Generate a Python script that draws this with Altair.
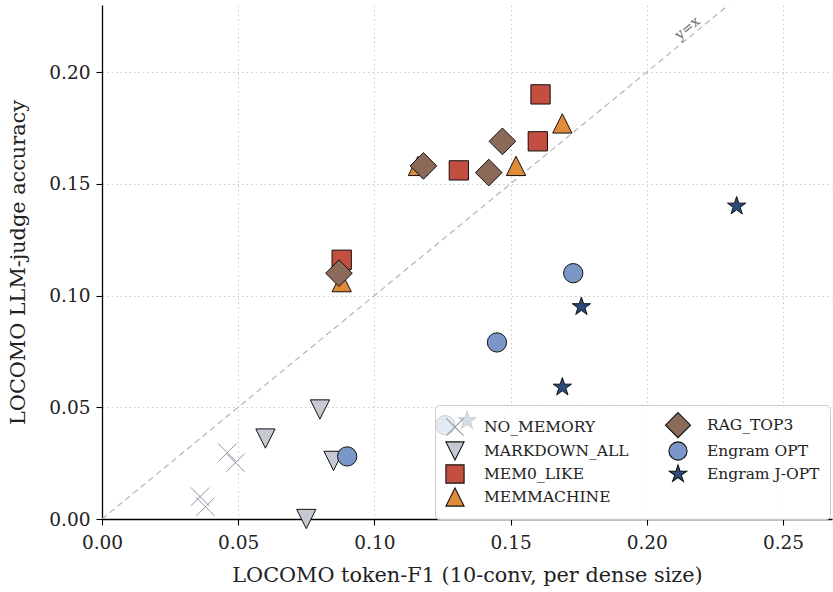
import altair as alt
import pandas as pd

# ---- data ----
methods = ["NO_MEMORY", "MARKDOWN_ALL", "MEM0_LIKE", "MEMMACHINE",
           "RAG_TOP3", "Engram OPT", "Engram J-OPT"]
f1 = {
    "NO_MEMORY":    [0.036, 0.038, 0.046, 0.049],
    "MARKDOWN_ALL": [0.060, 0.075, 0.080, 0.085],
    "MEM0_LIKE":    [0.088, 0.131, 0.160, 0.161],
    "MEMMACHINE":   [0.088, 0.116, 0.152, 0.169],
    "RAG_TOP3":     [0.087, 0.118, 0.142, 0.147],
    "Engram OPT":   [0.090, 0.126, 0.145, 0.173],
    "Engram J-OPT": [0.134, 0.169, 0.176, 0.233],
}
acc = {
    "NO_MEMORY":    [0.010, 0.0055, 0.0297, 0.0252],
    "MARKDOWN_ALL": [0.036, 0.000, 0.049, 0.026],
    "MEM0_LIKE":    [0.116, 0.156, 0.169, 0.190],
    "MEMMACHINE":   [0.106, 0.158, 0.158, 0.177],
    "RAG_TOP3":     [0.110, 0.158, 0.155, 0.169],
    "Engram OPT":   [0.028, 0.042, 0.079, 0.110],
    "Engram J-OPT": [0.044, 0.059, 0.095, 0.140],
}
diag = [0.0, 0.23]
x_ticks = [0.00, 0.05, 0.10, 0.15, 0.20, 0.25]
y_ticks = [0.00, 0.05, 0.10, 0.15, 0.20]

rows = []
for m in methods:
    for xv, yv in zip(f1[m], acc[m]):
        rows.append({"method": m, "f1": xv, "acc": yv})
df = pd.DataFrame(rows)
diag_df = pd.DataFrame({"x": diag, "y": diag})
lab_df = pd.DataFrame({"x": [0.215], "y": [0.2195], "t": ["y=x"]})

X_PATH = "M-0.95,-0.95L0.95,0.95M-0.95,0.95L0.95,-0.95"
TRI_DOWN = "M0,1L1,-1L-1,-1Z"
SQUARE = "M-1,-1L1,-1L1,1L-1,1Z"
TRI_UP = "M0,-1L1,1L-1,1Z"
DIAMOND = "M0,-1.38L1.38,0L0,1.38L-1.38,0Z"
STAR = ("M0,-1L0.225,-0.309L0.951,-0.309L0.363,0.118L0.588,0.809L0,0.382"
        "L-0.588,0.809L-0.363,0.118L-0.951,-0.309L-0.225,-0.309Z")

shape_map = {"NO_MEMORY": X_PATH, "MARKDOWN_ALL": TRI_DOWN, "MEM0_LIKE": SQUARE,
             "MEMMACHINE": TRI_UP, "RAG_TOP3": DIAMOND, "Engram OPT": "circle",
             "Engram J-OPT": STAR}
fill_map = {"NO_MEMORY": "transparent", "MARKDOWN_ALL": "#c5c9d2",
            "MEM0_LIKE": "#c44e3f", "MEMMACHINE": "#e08b39",
            "RAG_TOP3": "#8b6a5a", "Engram OPT": "#7b96c8",
            "Engram J-OPT": "#2e4a7d"}
stroke_map = {m: "#111111" for m in methods}
stroke_map["NO_MEMORY"] = "#9197a6"

leg = alt.Legend(title=None, orient="none", legendX=333, legendY=400,
                 columns=2, symbolSize=330, labelFont="DejaVu Serif",
                 labelFontSize=15.5, labelColor="#222222", rowPadding=-1,
                 columnPadding=34, labelOffset=19, padding=10,
                 fillColor="rgba(255,255,255,0.8)", strokeColor="#cccccc",
                 cornerRadius=4, symbolStrokeWidth=1.1)

xs = alt.Scale(domain=[0, 0.268], nice=False, zero=False)
ys = alt.Scale(domain=[0, 0.23], nice=False, zero=False)

xaxis = alt.Axis(values=x_ticks, format=".2f", labelFlush=False,
                 labelPadding=8, titlePadding=14,
                 title="LOCOMO token-F1 (10-conv, per dense size)")
yaxis = alt.Axis(values=y_ticks, format=".2f", labelFlush=False,
                 labelPadding=6, titlePadding=20,
                 title="LOCOMO LLM-judge accuracy")

line = alt.Chart(diag_df).mark_line(color="#b5b5b5", strokeDash=[6, 4],
                                     strokeWidth=1.2, clip=True).encode(
    x=alt.X("x:Q", scale=xs, axis=xaxis),
    y=alt.Y("y:Q", scale=ys, axis=yaxis),
)

label = alt.Chart(lab_df).mark_text(angle=320.6, font="DejaVu Serif",
                                    fontSize=14, color="#666666").encode(
    x=alt.X("x:Q", scale=xs), y=alt.Y("y:Q", scale=ys), text="t:N")

pts = alt.Chart(df).mark_point(filled=True, size=372, strokeWidth=1.0,
                               opacity=1).encode(
    x=alt.X("f1:Q", scale=xs),
    y=alt.Y("acc:Q", scale=ys),
    shape=alt.Shape("method:N", scale=alt.Scale(
        domain=methods, range=[shape_map[m] for m in methods]),
        legend=leg),
    fill=alt.Fill("method:N", scale=alt.Scale(
        domain=methods, range=[fill_map[m] for m in methods]),
        legend=leg),
    stroke=alt.Stroke("method:N", scale=alt.Scale(
        domain=methods, range=[stroke_map[m] for m in methods]),
        legend=leg),
)

chart = alt.layer(line, label, pts).properties(
    width=730, height=514,
    autosize=alt.AutoSizeParams(type="none"),
    padding={"left": 102, "top": 5, "right": 1, "bottom": 73},
).configure_view(stroke=None).configure_axis(
    labelFont="DejaVu Serif", titleFont="DejaVu Serif",
    labelFontSize=18.5, titleFontSize=20.8, titleFontWeight="normal",
    labelColor="#222222", titleColor="#222222",
    domainColor="#000000", domainWidth=1.3,
    tickColor="#000000", tickSize=6, tickWidth=1.1,
    grid=True, gridColor="#c4c4c4", gridDash=[1.5, 3], gridWidth=0.9,
)

chart.save("out.html", embed_options={"renderer": "svg", "actions": False})
